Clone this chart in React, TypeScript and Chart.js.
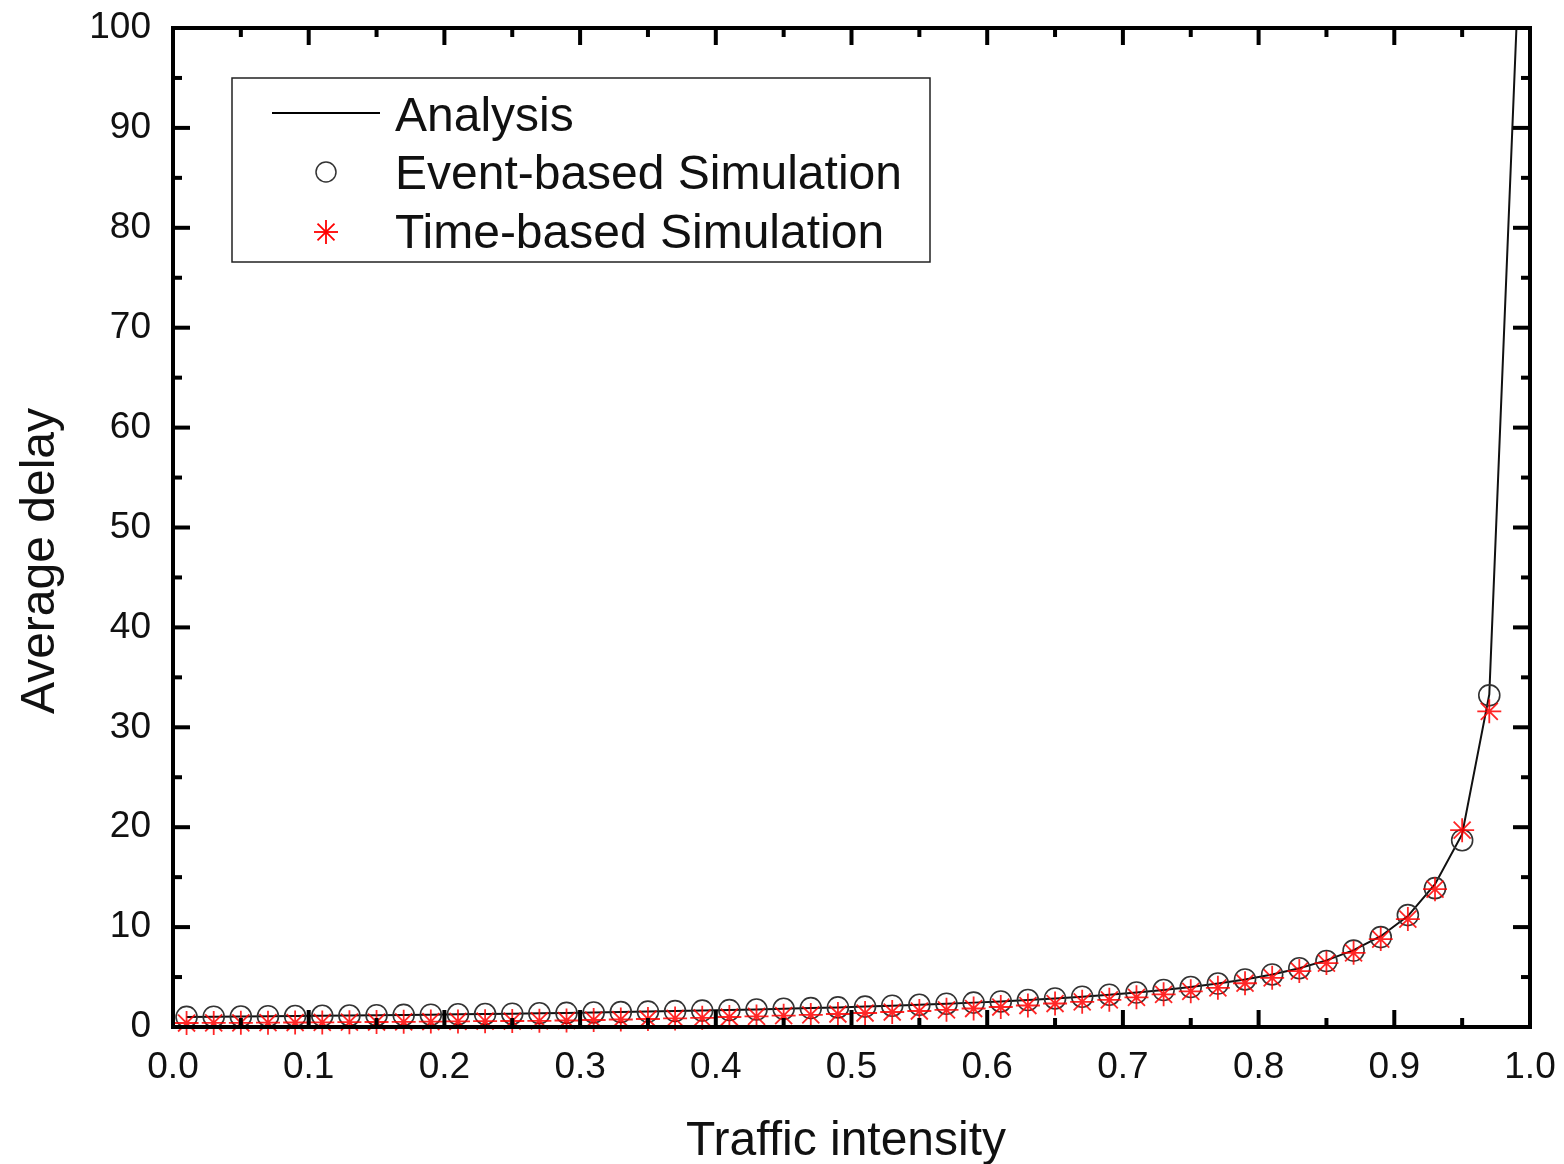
import React, { useEffect, useRef } from "react";
import { Chart, registerables } from "chart.js";

Chart.register(...registerables);

// ---------- data ----------
const analysisX = [
  0.01, 0.03, 0.05, 0.07, 0.09, 0.11, 0.13, 0.15, 0.17, 0.19,
  0.21, 0.23, 0.25, 0.27, 0.29, 0.31, 0.33, 0.35, 0.37, 0.39,
  0.41, 0.43, 0.45, 0.47, 0.49, 0.51, 0.53, 0.55, 0.57, 0.59,
  0.61, 0.63, 0.65, 0.67, 0.69, 0.71, 0.73, 0.75, 0.77, 0.79,
  0.81, 0.83, 0.85, 0.87, 0.89, 0.91, 0.93, 0.95, 0.97, 0.99,
];
const analysisY = [
  1.01, 1.03, 1.05, 1.08, 1.10, 1.12, 1.15, 1.18, 1.20, 1.23,
  1.27, 1.30, 1.33, 1.37, 1.41, 1.45, 1.49, 1.54, 1.59, 1.64,
  1.69, 1.75, 1.82, 1.89, 1.96, 2.04, 2.13, 2.22, 2.33, 2.44,
  2.56, 2.70, 2.86, 3.03, 3.23, 3.45, 3.70, 4.00, 4.35, 4.76,
  5.26, 5.88, 6.67, 7.69, 9.09, 11.1, 14.3, 19.3, 33.3, 100,
];
const simX = [
  0.01, 0.03, 0.05, 0.07, 0.09, 0.11, 0.13, 0.15, 0.17, 0.19,
  0.21, 0.23, 0.25, 0.27, 0.29, 0.31, 0.33, 0.35, 0.37, 0.39,
  0.41, 0.43, 0.45, 0.47, 0.49, 0.51, 0.53, 0.55, 0.57, 0.59,
  0.61, 0.63, 0.65, 0.67, 0.69, 0.71, 0.73, 0.75, 0.77, 0.79,
  0.81, 0.83, 0.85, 0.87, 0.89, 0.91, 0.93, 0.95, 0.97,
];
const eventY = [
  1.01, 1.03, 1.05, 1.08, 1.10, 1.12, 1.15, 1.18, 1.21, 1.23,
  1.27, 1.30, 1.33, 1.37, 1.41, 1.45, 1.49, 1.54, 1.59, 1.64,
  1.69, 1.75, 1.82, 1.89, 1.96, 2.04, 2.13, 2.22, 2.33, 2.44,
  2.56, 2.70, 2.86, 3.03, 3.23, 3.45, 3.70, 4.00, 4.35, 4.76,
  5.26, 5.88, 6.60, 7.65, 9.00, 11.2, 13.9, 18.7, 33.2,
];
const timeY = [
  0.40, 0.41, 0.42, 0.43, 0.45, 0.46, 0.48, 0.50, 0.52, 0.54,
  0.56, 0.58, 0.60, 0.62, 0.65, 0.70, 0.75, 0.80, 0.86, 0.92,
  1.00, 1.06, 1.13, 1.21, 1.30, 1.40, 1.50, 1.60, 1.72, 1.85,
  2.00, 2.15, 2.35, 2.52, 2.72, 2.97, 3.27, 3.57, 3.92, 4.38,
  4.92, 5.60, 6.40, 7.42, 8.80, 10.8, 13.8, 19.7, 31.6,
];
const xTickValues = [0, 0.1, 0.2, 0.3, 0.4, 0.5, 0.6, 0.7, 0.8, 0.9, 1.0];
const yTickValues = [0, 10, 20, 30, 40, 50, 60, 70, 80, 90, 100];
const seriesLabels = ["Analysis", "Event-based Simulation", "Time-based Simulation"];
const xTitle = "Traffic intensity";
const yTitle = "Average delay";

const FONT = "'Liberation Sans', Arial, sans-serif";
const TEXT = "#111";

const decorPlugin = {
  id: "decor",
  afterDraw(chart: any) {
    const { ctx, chartArea: a, scales } = chart;
    const xs = scales.x;
    const ys = scales.y;
    ctx.save();
    ctx.strokeStyle = "#000";
    ctx.lineCap = "butt";
    const seg = (x1: number, y1: number, x2: number, y2: number) => {
      ctx.beginPath();
      ctx.moveTo(x1, y1);
      ctx.lineTo(x2, y2);
      ctx.stroke();
    };
    const MAJ = 17;
    const MIN = 9;
    ctx.lineWidth = 4;
    for (let i = 0; i < xTickValues.length; i++) {
      const v = xTickValues[i];
      const px = xs.getPixelForValue(v);
      seg(px, a.bottom, px, a.bottom - MAJ);
      seg(px, a.top, px, a.top + MAJ);
      if (i < xTickValues.length - 1) {
        const m = xs.getPixelForValue((v + xTickValues[i + 1]) / 2);
        seg(m, a.bottom, m, a.bottom - MIN);
        seg(m, a.top, m, a.top + MIN);
      }
    }
    for (let i = 0; i < yTickValues.length; i++) {
      const v = yTickValues[i];
      const py = ys.getPixelForValue(v);
      seg(a.left, py, a.left + MAJ, py);
      seg(a.right, py, a.right - MAJ, py);
      if (i < yTickValues.length - 1) {
        const m = ys.getPixelForValue((v + yTickValues[i + 1]) / 2);
        seg(a.left, m, a.left + MIN, m);
        seg(a.right, m, a.right - MIN, m);
      }
    }
    ctx.lineWidth = 4;
    ctx.strokeRect(a.left, a.top, a.right - a.left, a.bottom - a.top);

    // axis titles
    ctx.fillStyle = TEXT;
    ctx.font = `48px ${FONT}`;
    ctx.textAlign = "center";
    ctx.textBaseline = "alphabetic";
    ctx.fillText(xTitle, 846, 1155);
    ctx.save();
    ctx.translate(54, 561);
    ctx.rotate(-Math.PI / 2);
    ctx.fillText(yTitle, 0, 0);
    ctx.restore();

    // legend
    ctx.lineWidth = 1.5;
    ctx.strokeStyle = "#222";
    ctx.strokeRect(232, 78, 698, 184);
    ctx.strokeStyle = "#000";
    ctx.lineWidth = 2;
    seg(272, 113, 380, 113);
    ctx.strokeStyle = "#333";
    ctx.lineWidth = 1.5;
    ctx.beginPath();
    ctx.arc(326, 172, 10, 0, Math.PI * 2);
    ctx.stroke();
    ctx.strokeStyle = "#ff0000";
    ctx.lineWidth = 1.8;
    const r = 12;
    seg(326, 232 - r, 326, 232 + r);
    seg(326 - r, 232, 326 + r, 232);
    const d = r * Math.SQRT1_2;
    seg(326 - d, 232 - d, 326 + d, 232 + d);
    seg(326 - d, 232 + d, 326 + d, 232 - d);
    ctx.fillStyle = TEXT;
    ctx.font = `48px ${FONT}`;
    ctx.textAlign = "left";
    ctx.fillText(seriesLabels[0], 395, 131);
    ctx.fillText(seriesLabels[1], 395, 189);
    ctx.fillText(seriesLabels[2], 395, 248);
    ctx.restore();
  },
};

export default function App() {
  const ref = useRef<HTMLCanvasElement | null>(null);
  useEffect(() => {
    if (!ref.current) return;
    const chart = new Chart(ref.current, {
      type: "scatter",
      data: {
        datasets: [
          {
            label: seriesLabels[0],
            data: analysisX.map((x, i) => ({ x, y: analysisY[i] })),
            showLine: true,
            borderColor: "#111",
            borderWidth: 2,
            pointRadius: 0,
            order: 3,
          },
          {
            label: seriesLabels[1],
            data: simX.map((x, i) => ({ x, y: eventY[i] })),
            showLine: false,
            pointStyle: "circle",
            pointRadius: 10.5,
            pointBorderColor: "#333",
            pointBackgroundColor: "rgba(0,0,0,0)",
            pointBorderWidth: 1.6,
            clip: false,
            order: 2,
          },
          {
            label: seriesLabels[2],
            data: simX.map((x, i) => ({ x, y: timeY[i] })),
            showLine: false,
            pointStyle: "star",
            pointRadius: 12,
            pointBorderColor: "rgba(255,0,0,0.85)",
            pointBackgroundColor: "rgba(255,0,0,0.85)",
            pointBorderWidth: 1.8,
            clip: false,
            order: 1,
          },
        ],
      },
      options: {
        animation: false,
        responsive: false,
        layout: { padding: { top: 28, right: 34, left: 0, bottom: 0 } },
        plugins: { legend: { display: false }, tooltip: { enabled: false } },
        scales: {
          x: {
            type: "linear",
            min: 0,
            max: 1,
            grid: { display: false, drawTicks: false },
            border: { display: false },
            ticks: {
              stepSize: 0.1,
              padding: 19,
              color: TEXT,
              font: { family: FONT, size: 37 },
              maxRotation: 0,
              callback: (v: any) => Number(v).toFixed(1),
            },
            afterFit: (s: any) => {
              s.height = 137;
              s.paddingLeft = 0;
              s.paddingRight = 0;
            },
          },
          y: {
            type: "linear",
            min: 0,
            max: 100,
            grid: { display: false, drawTicks: false },
            border: { display: false },
            ticks: {
              stepSize: 10,
              padding: 22,
              color: TEXT,
              font: { family: FONT, size: 37 },
            },
            afterFit: (s: any) => {
              s.width = 173;
              s.paddingTop = 0;
              s.paddingBottom = 0;
            },
          },
        },
      },
      plugins: [decorPlugin],
    });
    return () => chart.destroy();
  }, []);
  return (
    <div style={{ position: "absolute", left: 0, top: 0, width: 1564, height: 1164, background: "#fff" }}>
      <canvas ref={ref} width={1564} height={1164} style={{ display: "block" }} />
    </div>
  );
}
